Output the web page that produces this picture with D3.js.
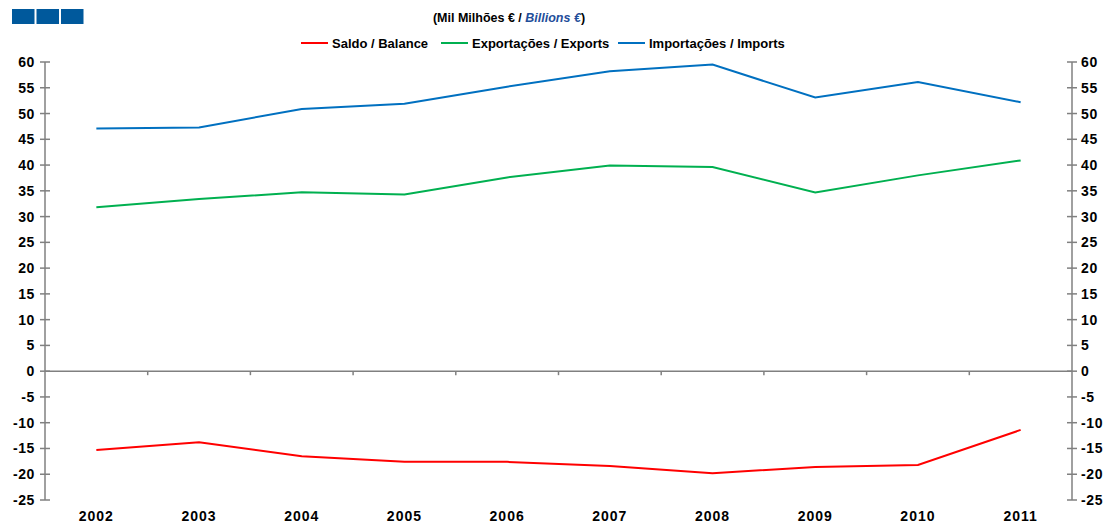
<!DOCTYPE html>
<html>
<head>
<meta charset="utf-8">
<script src="https://cdn.jsdelivr.net/npm/d3@7"></script>
<style>
  body { margin: 0; background: #fff; }
  svg { font-family: "Liberation Sans", Arial, sans-serif; font-weight: bold; }
</style>
</head>
<body>
<div id="chart"></div>
<script>
var years = ["2002","2003","2004","2005","2006","2007","2008","2009","2010","2011"];
var balance = [-15.3, -13.8, -16.5, -17.6, -17.6, -18.4, -19.8, -18.6, -18.2, -11.4];
var exportsV = [31.8, 33.4, 34.7, 34.3, 37.6, 39.9, 39.6, 34.7, 38.0, 40.9];
var importsV = [47.1, 47.3, 50.9, 51.9, 55.2, 58.2, 59.5, 53.1, 56.1, 52.2];
var yTicks = d3.range(-25, 61, 5);

var series = [
  {name: "Saldo / Balance", values: balance, color: "#ff0000"},
  {name: "Exportações / Exports", values: exportsV, color: "#00b050"},
  {name: "Importações / Imports", values: importsV, color: "#0070c0"}
];

var W = 1110, H = 524;
var svg = d3.select("#chart").append("svg").attr("width", W).attr("height", H);

var mLeft = 45, mRight = 1072, mTop = 62, mBottom = 500;

var x = d3.scaleBand().domain(years).range([mLeft, mRight]);
var y = d3.scaleLinear().domain([-25, 60]).range([mBottom, mTop]);

// top-left squares
svg.selectAll("rect.logo").data([0,1,2]).enter().append("rect")
  .attr("x", d => 12 + d*24.5).attr("y", 9).attr("width", 22.5).attr("height", 15)
  .attr("fill", "#00599c");

// title
var title = svg.append("text").attr("x", 509).attr("y", 22).attr("text-anchor", "middle")
  .attr("font-size", 12.5);
title.append("tspan").text("(Mil Milhões € / ");
title.append("tspan").attr("fill", "#1f4e9a").attr("font-style", "italic").text("Billions €");
title.append("tspan").text(")");

// legend
var legX = [301, 441, 618];
var leg = svg.selectAll("g.leg").data(series).enter().append("g")
  .attr("transform", (d,i) => "translate(" + legX[i] + ",43)");
leg.append("line").attr("x1", 0).attr("x2", 27).attr("stroke", d => d.color).attr("stroke-width", 2);
leg.append("text").attr("x", 31).attr("y", 5).attr("font-size", 13).text(d => d.name);

var axisColor = "#808080";

// zero line with category ticks
svg.append("line").attr("x1", mLeft).attr("x2", mRight).attr("y1", y(0)).attr("y2", y(0))
  .attr("stroke", axisColor).attr("stroke-width", 1.5);
svg.selectAll("line.xt").data(years.slice(1)).enter().append("line")
  .attr("x1", d => x(d)).attr("x2", d => x(d))
  .attr("y1", y(0)).attr("y2", y(0) + 4)
  .attr("stroke", axisColor).attr("stroke-width", 1.5);

// y axes
function yAxis(xpos, anchorLeft) {
  var g = svg.append("g");
  g.append("line").attr("x1", xpos).attr("x2", xpos).attr("y1", mTop).attr("y2", mBottom)
    .attr("stroke", axisColor).attr("stroke-width", 1.5);
  g.selectAll("line.t").data(yTicks).enter().append("line")
    .attr("x1", xpos - 5).attr("x2", xpos + 5)
    .attr("y1", d => y(d)).attr("y2", d => y(d))
    .attr("stroke", axisColor).attr("stroke-width", 1.5);
  g.selectAll("text").data(yTicks).enter().append("text")
    .attr("x", anchorLeft ? xpos - 10 : xpos + 9)
    .attr("y", d => y(d) + 5)
    .attr("text-anchor", anchorLeft ? "end" : "start")
    .attr("font-size", 14).attr("letter-spacing", 0.6)
    .text(d => d);
}
yAxis(mLeft, true);
yAxis(mRight, false);

// x labels
svg.selectAll("text.xl").data(years).enter().append("text")
  .attr("x", d => x(d) + x.bandwidth()/2).attr("y", 521)
  .attr("text-anchor", "middle").attr("font-size", 14).attr("letter-spacing", 1)
  .text(d => d);

// lines
var line = d3.line()
  .x((d,i) => x(years[i]) + x.bandwidth()/2)
  .y(d => y(d));
svg.selectAll("path.s").data(series).enter().append("path")
  .attr("d", d => line(d.values))
  .attr("fill", "none").attr("stroke", d => d.color).attr("stroke-width", 2);
</script>
</body>
</html>
